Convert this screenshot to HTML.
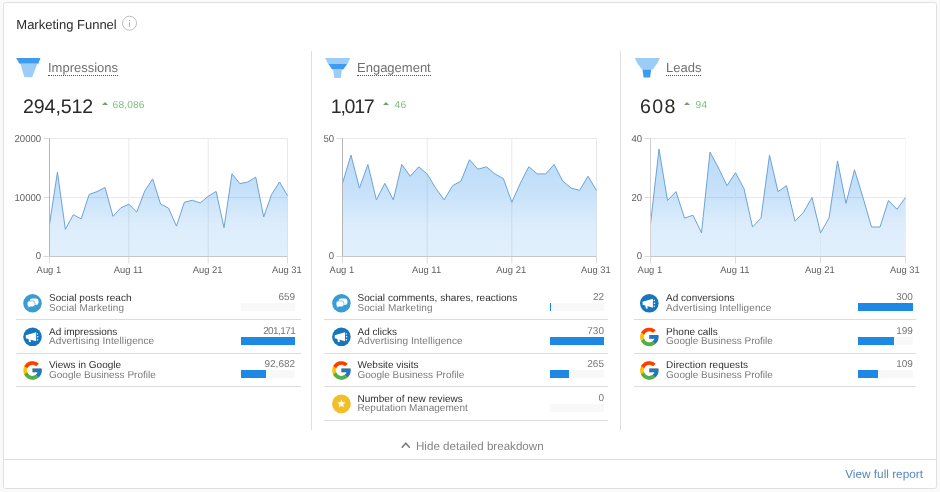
<!DOCTYPE html>
<html><head><meta charset="utf-8"><title>Marketing Funnel</title>
<style>
*{box-sizing:border-box;margin:0;padding:0}
html,body{width:940px;height:492px;overflow:hidden;background:#fafafa;font-family:"Liberation Sans",sans-serif;text-rendering:geometricPrecision}
#wrap{position:absolute;left:0;top:0;width:940px;height:492px;will-change:transform}
#card{position:absolute;left:3px;top:2px;width:934px;height:487px;background:#fff;border:1px solid #e0e0e0;border-radius:2.5px}
#title{position:absolute;left:16.3px;top:16.5px;font-size:13px;color:#2c2c2c;line-height:16px;white-space:nowrap}
.vd{position:absolute;top:51px;height:379px;width:1px;background:#dedede}
#foot{position:absolute;left:4px;top:459px;width:932px;height:1px;background:#e0e0e0}
.lab{position:absolute;top:60.5px;font-size:13px;line-height:14.5px;color:#707070;white-space:nowrap;border-bottom:1px dotted #555;padding-bottom:0px}
.num{position:absolute;top:94.6px;font-size:19.6px;line-height:24px;color:#2a2a2a;white-space:nowrap;letter-spacing:-0.1px}
.dl{position:absolute;top:100.3px;font-size:10.2px;line-height:12px;color:#7dbf7e;white-space:nowrap;letter-spacing:0.15px}
.tri{position:absolute;top:102px;width:0;height:0;border-left:3px solid transparent;border-right:3px solid transparent;border-bottom:3.6px solid #6aa46b}
svg{position:absolute;left:0;top:0}
.ax{text-rendering:geometricPrecision;font-size:10px;fill:#5f5f5f;font-family:"Liberation Sans",sans-serif}
.axx{font-size:9.5px}
.row{position:absolute;width:284.5px;height:34px;border-bottom:1px solid #dcdcdc}
.row .t{position:absolute;left:33px;top:7.3px;font-size:10px;line-height:11px;color:#303030;white-space:nowrap}
.row .s{position:absolute;left:33px;top:16.9px;font-size:10px;line-height:11px;color:#7a7a7a;white-space:nowrap}
.row .v{position:absolute;right:5.5px;top:6px;font-size:10px;line-height:11px;color:#757575;white-space:nowrap}
.row .trk{position:absolute;right:5.5px;top:17.4px;width:54px;height:8px;background:#f8f8f8}
.row .bar{height:8px;background:#1e88e5}
#hide{position:absolute;left:416px;top:439.8px;font-size:11.6px;line-height:14px;color:#858585;white-space:nowrap}
#view{position:absolute;right:17px;top:467px;font-size:11.8px;line-height:14px;color:#5688bf;white-space:nowrap}
</style></head><body>
<div id="wrap"><div id="card"></div>
<div id="title">Marketing Funnel</div>
<div class="vd" style="left:311px"></div><div class="vd" style="left:620px"></div>
<div id="foot"></div>
<div class="lab" style="left:48px">Impressions</div>
<div class="lab" style="left:357px">Engagement</div>
<div class="lab" style="left:666px">Leads</div>
<div class="num" style="left:23px">294,512</div>
<div class="num" style="left:330.8px;letter-spacing:-1.3px">1,017</div>
<div class="num" style="left:640px;letter-spacing:1.4px">608</div>
<div class="tri" style="left:101.9px"></div><div class="dl" style="left:112.6px">68,086</div>
<div class="tri" style="left:383.3px"></div><div class="dl" style="left:394.6px">46</div>
<div class="tri" style="left:683.7px"></div><div class="dl" style="left:695.6px">94</div>
<div class="row" style="left:16px;top:286.0px;width:284.6px"><div class="t" style="left:33.0px;letter-spacing:0.05px">Social posts reach</div><div class="s" style="left:33.0px;letter-spacing:0.07px">Social Marketing</div><div class="v" style="right:5.5px">659</div><div class="trk" style="right:5.5px;width:54.2px"><div class="bar" style="width:0.0px"></div></div></div><div class="row" style="left:16px;top:319.5px;width:284.6px"><div class="t" style="left:33.0px">Ad impressions</div><div class="s" style="left:33.0px;letter-spacing:0.1px">Advertising Intelligence</div><div class="v" style="right:5.5px;letter-spacing:-0.6px">201,171</div><div class="trk" style="right:5.5px;width:54.2px"><div class="bar" style="width:54.2px"></div></div></div><div class="row" style="left:16px;top:353.0px;width:284.6px"><div class="t" style="left:33.0px">Views in Google</div><div class="s" style="left:33.0px">Google Business Profile</div><div class="v" style="right:5.5px">92,682</div><div class="trk" style="right:5.5px;width:54.2px"><div class="bar" style="width:24.9px"></div></div></div><div class="row" style="left:324px;top:286.0px;width:283.8px"><div class="t" style="left:33.5px;letter-spacing:0.055px">Social comments, shares, reactions</div><div class="s" style="left:33.5px;letter-spacing:0.07px">Social Marketing</div><div class="v" style="right:3.8px">22</div><div class="trk" style="right:3.8px;width:54px"><div class="bar" style="width:1.1px"></div></div></div><div class="row" style="left:324px;top:319.5px;width:283.8px"><div class="t" style="left:33.5px">Ad clicks</div><div class="s" style="left:33.5px;letter-spacing:0.1px">Advertising Intelligence</div><div class="v" style="right:3.8px">730</div><div class="trk" style="right:3.8px;width:54px"><div class="bar" style="width:54.0px"></div></div></div><div class="row" style="left:324px;top:353.0px;width:283.8px"><div class="t" style="left:33.5px">Website visits</div><div class="s" style="left:33.5px">Google Business Profile</div><div class="v" style="right:3.8px">265</div><div class="trk" style="right:3.8px;width:54px"><div class="bar" style="width:19.2px"></div></div></div><div class="row" style="left:324px;top:386.5px;width:283.8px"><div class="t" style="left:33.5px;letter-spacing:0.04px">Number of new reviews</div><div class="s" style="left:33.5px;letter-spacing:0.04px">Reputation Management</div><div class="v" style="right:3.8px">0</div><div class="trk" style="right:3.8px;width:54px"><div class="bar" style="width:0.0px"></div></div></div><div class="row" style="left:633.6px;top:286.0px;width:282.1px"><div class="t" style="left:32.5px">Ad conversions</div><div class="s" style="left:32.5px;letter-spacing:0.1px">Advertising Intelligence</div><div class="v" style="right:2.8px">300</div><div class="trk" style="right:2.8px;width:54.8px"><div class="bar" style="width:54.8px"></div></div></div><div class="row" style="left:633.6px;top:319.5px;width:282.1px"><div class="t" style="left:32.5px">Phone calls</div><div class="s" style="left:32.5px">Google Business Profile</div><div class="v" style="right:2.8px">199</div><div class="trk" style="right:2.8px;width:54.8px"><div class="bar" style="width:35.9px"></div></div></div><div class="row" style="left:633.6px;top:353.0px;width:282.1px"><div class="t" style="left:32.5px;letter-spacing:0.08px">Direction requests</div><div class="s" style="left:32.5px">Google Business Profile</div><div class="v" style="right:2.8px">109</div><div class="trk" style="right:2.8px;width:54.8px"><div class="bar" style="width:19.7px"></div></div></div>
<svg width="940" height="492" viewBox="0 0 940 492">
<defs>
<linearGradient id="g1" x1="0" y1="138" x2="0" y2="257" gradientUnits="userSpaceOnUse"><stop offset="0" stop-color="#3b98ec" stop-opacity="0.36"/><stop offset="0.45" stop-color="#3b98ec" stop-opacity="0.29"/><stop offset="0.72" stop-color="#3b98ec" stop-opacity="0.18"/><stop offset="1" stop-color="#3b98ec" stop-opacity="0.145"/></linearGradient>
</defs>
<line x1="43.5" y1="256.5" x2="49.5" y2="256.5" stroke="#dadada" stroke-width="1"/>
<line x1="49.5" y1="197.5" x2="287.5" y2="197.5" stroke="#e9e9e9" stroke-width="1"/>
<line x1="43.5" y1="197.5" x2="49.5" y2="197.5" stroke="#dadada" stroke-width="1"/>
<line x1="49.5" y1="138.5" x2="287.5" y2="138.5" stroke="#e9e9e9" stroke-width="1"/>
<line x1="43.5" y1="138.5" x2="49.5" y2="138.5" stroke="#dadada" stroke-width="1"/>
<line x1="49.50" y1="256.5" x2="49.50" y2="263.5" stroke="#dcdcdc" stroke-width="1"/>
<line x1="128.83" y1="138.5" x2="128.83" y2="256.5" stroke="#e9e9e9" stroke-width="1"/>
<line x1="128.83" y1="256.5" x2="128.83" y2="263.5" stroke="#dcdcdc" stroke-width="1"/>
<line x1="208.17" y1="138.5" x2="208.17" y2="256.5" stroke="#e9e9e9" stroke-width="1"/>
<line x1="208.17" y1="256.5" x2="208.17" y2="263.5" stroke="#dcdcdc" stroke-width="1"/>
<line x1="287.50" y1="138.5" x2="287.50" y2="256.5" stroke="#e9e9e9" stroke-width="1"/>
<line x1="287.50" y1="256.5" x2="287.50" y2="263.5" stroke="#dcdcdc" stroke-width="1"/>
<path d="M49.50,224.46 L57.43,172.17 L65.37,229.37 L73.30,214.66 L81.23,218.91 L89.17,194.40 L97.10,191.60 L105.03,187.53 L112.97,216.30 L120.90,207.80 L128.83,204.20 L136.77,212.04 L144.70,191.13 L152.63,178.92 L160.57,203.99 L168.50,208.12 L176.43,226.12 L184.37,202.22 L192.30,200.27 L200.23,202.89 L208.17,196.36 L216.10,191.45 L224.03,227.74 L231.97,173.80 L239.90,183.61 L247.83,181.97 L255.77,177.07 L263.70,216.95 L271.63,194.40 L279.57,181.97 L287.50,195.70 L287.50,256.5 L49.50,256.5 Z" fill="url(#g1)"/>
<path d="M49.50,224.46 L57.43,172.17 L65.37,229.37 L73.30,214.66 L81.23,218.91 L89.17,194.40 L97.10,191.60 L105.03,187.53 L112.97,216.30 L120.90,207.80 L128.83,204.20 L136.77,212.04 L144.70,191.13 L152.63,178.92 L160.57,203.99 L168.50,208.12 L176.43,226.12 L184.37,202.22 L192.30,200.27 L200.23,202.89 L208.17,196.36 L216.10,191.45 L224.03,227.74 L231.97,173.80 L239.90,183.61 L247.83,181.97 L255.77,177.07 L263.70,216.95 L271.63,194.40 L279.57,181.97 L287.50,195.70" fill="none" stroke="#6ea2d6" stroke-width="1" stroke-linejoin="miter" stroke-miterlimit="12"/>
<line x1="49.5" y1="138.5" x2="49.5" y2="256.5" stroke="#b4b4b4" stroke-width="1"/>
<line x1="49.5" y1="256.5" x2="287.5" y2="256.5" stroke="#c6c6c6" stroke-width="1"/>
<text transform="translate(41.2,258.70000000000005) scale(0.96,1)" text-anchor="end" class="ax">0</text>
<text transform="translate(41.2,200.6) scale(0.96,1)" text-anchor="end" class="ax">10000</text>
<text transform="translate(41.2,141.6) scale(0.96,1)" text-anchor="end" class="ax">20000</text>
<text transform="translate(48.90,272.8) scale(0.99,1)" text-anchor="middle" class="ax axx">Aug 1</text>
<text transform="translate(128.23,272.8) scale(0.99,1)" text-anchor="middle" class="ax axx">Aug 11</text>
<text transform="translate(207.57,272.8) scale(0.99,1)" text-anchor="middle" class="ax axx">Aug 21</text>
<text transform="translate(286.90,272.8) scale(0.99,1)" text-anchor="middle" class="ax axx">Aug 31</text><line x1="336.5" y1="256.5" x2="342.5" y2="256.5" stroke="#dadada" stroke-width="1"/>
<line x1="342.5" y1="138.5" x2="596.5" y2="138.5" stroke="#e9e9e9" stroke-width="1"/>
<line x1="336.5" y1="138.5" x2="342.5" y2="138.5" stroke="#dadada" stroke-width="1"/>
<line x1="342.50" y1="256.5" x2="342.50" y2="263.5" stroke="#dcdcdc" stroke-width="1"/>
<line x1="427.17" y1="138.5" x2="427.17" y2="256.5" stroke="#e9e9e9" stroke-width="1"/>
<line x1="427.17" y1="256.5" x2="427.17" y2="263.5" stroke="#dcdcdc" stroke-width="1"/>
<line x1="511.83" y1="138.5" x2="511.83" y2="256.5" stroke="#e9e9e9" stroke-width="1"/>
<line x1="511.83" y1="256.5" x2="511.83" y2="263.5" stroke="#dcdcdc" stroke-width="1"/>
<line x1="596.50" y1="138.5" x2="596.50" y2="256.5" stroke="#e9e9e9" stroke-width="1"/>
<line x1="596.50" y1="256.5" x2="596.50" y2="263.5" stroke="#dcdcdc" stroke-width="1"/>
<path d="M342.50,183.34 L350.97,155.02 L359.43,188.06 L367.90,164.46 L376.37,199.86 L384.83,183.34 L393.30,199.86 L401.77,164.46 L410.23,176.26 L418.70,166.82 L427.17,173.90 L435.63,188.06 L444.10,199.86 L452.57,185.70 L461.03,180.98 L469.50,159.74 L477.97,169.18 L486.43,166.82 L494.90,173.90 L503.37,178.62 L511.83,202.22 L520.30,183.34 L528.77,166.82 L537.23,173.90 L545.70,173.90 L554.17,164.46 L562.63,180.98 L571.10,188.06 L579.57,190.42 L588.03,176.26 L596.50,190.42 L596.50,256.5 L342.50,256.5 Z" fill="url(#g1)"/>
<path d="M342.50,183.34 L350.97,155.02 L359.43,188.06 L367.90,164.46 L376.37,199.86 L384.83,183.34 L393.30,199.86 L401.77,164.46 L410.23,176.26 L418.70,166.82 L427.17,173.90 L435.63,188.06 L444.10,199.86 L452.57,185.70 L461.03,180.98 L469.50,159.74 L477.97,169.18 L486.43,166.82 L494.90,173.90 L503.37,178.62 L511.83,202.22 L520.30,183.34 L528.77,166.82 L537.23,173.90 L545.70,173.90 L554.17,164.46 L562.63,180.98 L571.10,188.06 L579.57,190.42 L588.03,176.26 L596.50,190.42" fill="none" stroke="#6ea2d6" stroke-width="1" stroke-linejoin="miter" stroke-miterlimit="12"/>
<line x1="342.5" y1="138.5" x2="342.5" y2="256.5" stroke="#b4b4b4" stroke-width="1"/>
<line x1="342.5" y1="256.5" x2="596.5" y2="256.5" stroke="#c6c6c6" stroke-width="1"/>
<text transform="translate(334.2,258.70000000000005) scale(0.96,1)" text-anchor="end" class="ax">0</text>
<text transform="translate(334.2,141.6) scale(0.96,1)" text-anchor="end" class="ax">50</text>
<text transform="translate(341.90,272.8) scale(0.99,1)" text-anchor="middle" class="ax axx">Aug 1</text>
<text transform="translate(426.57,272.8) scale(0.99,1)" text-anchor="middle" class="ax axx">Aug 11</text>
<text transform="translate(511.23,272.8) scale(0.99,1)" text-anchor="middle" class="ax axx">Aug 21</text>
<text transform="translate(595.90,272.8) scale(0.99,1)" text-anchor="middle" class="ax axx">Aug 31</text><line x1="644.5" y1="256.5" x2="650.5" y2="256.5" stroke="#dadada" stroke-width="1"/>
<line x1="650.5" y1="197.5" x2="905.5" y2="197.5" stroke="#e9e9e9" stroke-width="1"/>
<line x1="644.5" y1="197.5" x2="650.5" y2="197.5" stroke="#dadada" stroke-width="1"/>
<line x1="650.5" y1="138.5" x2="905.5" y2="138.5" stroke="#e9e9e9" stroke-width="1"/>
<line x1="644.5" y1="138.5" x2="650.5" y2="138.5" stroke="#dadada" stroke-width="1"/>
<line x1="650.50" y1="256.5" x2="650.50" y2="263.5" stroke="#dcdcdc" stroke-width="1"/>
<line x1="735.50" y1="138.5" x2="735.50" y2="256.5" stroke="#f7f7f7" stroke-width="1"/>
<line x1="735.50" y1="256.5" x2="735.50" y2="263.5" stroke="#dcdcdc" stroke-width="1"/>
<line x1="820.50" y1="138.5" x2="820.50" y2="256.5" stroke="#f7f7f7" stroke-width="1"/>
<line x1="820.50" y1="256.5" x2="820.50" y2="263.5" stroke="#dcdcdc" stroke-width="1"/>
<line x1="905.50" y1="138.5" x2="905.50" y2="256.5" stroke="#f7f7f7" stroke-width="1"/>
<line x1="905.50" y1="256.5" x2="905.50" y2="263.5" stroke="#dcdcdc" stroke-width="1"/>
<path d="M650.50,224.05 L659.00,149.12 L667.50,200.45 L676.00,191.60 L684.50,218.15 L693.00,215.20 L701.50,232.90 L710.00,152.07 L718.50,168.00 L727.00,185.70 L735.50,172.72 L744.00,188.65 L752.50,227.00 L761.00,218.15 L769.50,155.02 L778.00,191.60 L786.50,185.70 L795.00,221.10 L803.50,212.25 L812.00,197.50 L820.50,232.90 L829.00,218.15 L837.50,160.92 L846.00,203.40 L854.50,169.77 L863.00,197.50 L871.50,227.00 L880.00,227.00 L888.50,200.45 L897.00,209.30 L905.50,197.50 L905.50,256.5 L650.50,256.5 Z" fill="url(#g1)"/>
<path d="M650.50,224.05 L659.00,149.12 L667.50,200.45 L676.00,191.60 L684.50,218.15 L693.00,215.20 L701.50,232.90 L710.00,152.07 L718.50,168.00 L727.00,185.70 L735.50,172.72 L744.00,188.65 L752.50,227.00 L761.00,218.15 L769.50,155.02 L778.00,191.60 L786.50,185.70 L795.00,221.10 L803.50,212.25 L812.00,197.50 L820.50,232.90 L829.00,218.15 L837.50,160.92 L846.00,203.40 L854.50,169.77 L863.00,197.50 L871.50,227.00 L880.00,227.00 L888.50,200.45 L897.00,209.30 L905.50,197.50" fill="none" stroke="#6ea2d6" stroke-width="1" stroke-linejoin="miter" stroke-miterlimit="12"/>
<line x1="650.5" y1="138.5" x2="650.5" y2="256.5" stroke="#d2d2d2" stroke-width="1"/>
<line x1="650.5" y1="256.5" x2="905.5" y2="256.5" stroke="#c6c6c6" stroke-width="1"/>
<text transform="translate(642.2,258.70000000000005) scale(0.96,1)" text-anchor="end" class="ax">0</text>
<text transform="translate(642.2,200.6) scale(0.96,1)" text-anchor="end" class="ax">20</text>
<text transform="translate(642.2,141.6) scale(0.96,1)" text-anchor="end" class="ax">40</text>
<text transform="translate(649.90,272.8) scale(0.99,1)" text-anchor="middle" class="ax axx">Aug 1</text>
<text transform="translate(734.90,272.8) scale(0.99,1)" text-anchor="middle" class="ax axx">Aug 11</text>
<text transform="translate(819.90,272.8) scale(0.99,1)" text-anchor="middle" class="ax axx">Aug 21</text>
<text transform="translate(904.90,272.8) scale(0.99,1)" text-anchor="middle" class="ax axx">Aug 31</text>
<g transform="translate(16.1,58)">
<polygon points="0,0 24.4,0 22.2,5.7 3.4,5.7" fill="#3f9bf0"/>
<polygon points="4.3,5.7 21.3,5.7 16,19.2 8.3,19.2" fill="#9ccdf6"/>
</g><g transform="translate(325.15,58) scale(1.03,1)">
<polygon points="0,0 24.5,0 21.6,6 2.9,6" fill="#9ccdf6"/>
<polygon points="3.1,6 21.4,6 17.6,11.6 6.9,11.6" fill="#3f9bf0"/>
<polygon points="7.8,11.6 16.3,11.6 15.200000000000001,20 8.9,20" fill="#9ccdf6"/>
</g><g transform="translate(634.75,58) scale(1.03,1)">
<polygon points="0,0 24.5,0 21.6,6 2.9,6" fill="#9ccdf6"/>
<polygon points="3.1,6 21.4,6 17.6,11.6 6.9,11.6" fill="#9ccdf6"/>
<polygon points="7.5,11.6 16.0,11.6 14.9,19.6 8.6,19.6" fill="#3f9bf0"/>
</g>
<g transform="translate(32.5,303.3)"><circle r="9.25" fill="#3a9cd4"/>
<rect x="-2.8" y="-4.7" width="8.8" height="6.3" rx="2.6" fill="#fff"/>
<path d="M-5.3,-0.2 a2.1,2.1 0 0 1 2.1,-2.1 h3.6 a2.1,2.1 0 0 1 2.1,2.1 v1.6 a2.1,2.1 0 0 1 -2.1,2.1 h-2.6 l-2.9,1.3 l0.8,-1.7 a2.1,2.1 0 0 1 -1,-1.8 z" fill="#fff" stroke="#3a9cd4" stroke-width="0.6"/></g><g transform="translate(32.5,336.8)"><circle r="9.3" fill="#1677be"/>
<path d="M-6.7,-1.6 L3.6,-4.6 V4.4 L-6.7,1.4 Z M-4.1,1.9 L-2.1,2.5 L-1.5,5.2 L-3.4,5.2 Z" fill="#fff"/>
<circle cx="5.2" cy="-0.1" r="0.75" fill="#fff"/><circle cx="5" cy="-2.9" r="0.7" fill="#fff"/><circle cx="5" cy="2.9" r="0.7" fill="#fff"/></g><g transform="translate(21.4,359.3) scale(0.46249999999999997)">
<path fill="#FFC107" d="M43.611,20.083H42V20H24v8h11.303c-1.649,4.657-6.08,8-11.303,8c-6.627,0-12-5.373-12-12c0-6.627,5.373-12,12-12c3.059,0,5.842,1.154,7.961,3.039l5.657-5.657C34.046,6.053,29.268,4,24,4C12.955,4,4,12.955,4,24c0,11.045,8.955,20,20,20c11.045,0,20-8.955,20-20C44,22.659,43.862,21.35,43.611,20.083z"/>
<path fill="#FF3D00" d="M6.306,14.691l6.571,4.819C14.655,15.108,18.961,12,24,12c3.059,0,5.842,1.154,7.961,3.039l5.657-5.657C34.046,6.053,29.268,4,24,4C16.318,4,9.656,8.337,6.306,14.691z"/>
<path fill="#4CAF50" d="M24,44c5.166,0,9.86-1.977,13.409-5.192l-6.19-5.238C29.211,35.091,26.715,36,24,36c-5.202,0-9.619-3.317-11.283-7.946l-6.522,5.025C9.505,39.556,16.227,44,24,44z"/>
<path fill="#1976D2" d="M43.611,20.083H42V20H24v8h11.303c-0.792,2.237-2.231,4.166-4.087,5.571c0.001-0.001,0.002-0.001,0.003-0.002l6.19,5.238C36.971,39.205,44,34,44,24C44,22.659,43.862,21.35,43.611,20.083z"/>
</g><g transform="translate(341.4,303.3)"><circle r="9.25" fill="#3a9cd4"/>
<rect x="-2.8" y="-4.7" width="8.8" height="6.3" rx="2.6" fill="#fff"/>
<path d="M-5.3,-0.2 a2.1,2.1 0 0 1 2.1,-2.1 h3.6 a2.1,2.1 0 0 1 2.1,2.1 v1.6 a2.1,2.1 0 0 1 -2.1,2.1 h-2.6 l-2.9,1.3 l0.8,-1.7 a2.1,2.1 0 0 1 -1,-1.8 z" fill="#fff" stroke="#3a9cd4" stroke-width="0.6"/></g><g transform="translate(341.4,336.8)"><circle r="9.3" fill="#1677be"/>
<path d="M-6.7,-1.6 L3.6,-4.6 V4.4 L-6.7,1.4 Z M-4.1,1.9 L-2.1,2.5 L-1.5,5.2 L-3.4,5.2 Z" fill="#fff"/>
<circle cx="5.2" cy="-0.1" r="0.75" fill="#fff"/><circle cx="5" cy="-2.9" r="0.7" fill="#fff"/><circle cx="5" cy="2.9" r="0.7" fill="#fff"/></g><g transform="translate(330.29999999999995,359.3) scale(0.46249999999999997)">
<path fill="#FFC107" d="M43.611,20.083H42V20H24v8h11.303c-1.649,4.657-6.08,8-11.303,8c-6.627,0-12-5.373-12-12c0-6.627,5.373-12,12-12c3.059,0,5.842,1.154,7.961,3.039l5.657-5.657C34.046,6.053,29.268,4,24,4C12.955,4,4,12.955,4,24c0,11.045,8.955,20,20,20c11.045,0,20-8.955,20-20C44,22.659,43.862,21.35,43.611,20.083z"/>
<path fill="#FF3D00" d="M6.306,14.691l6.571,4.819C14.655,15.108,18.961,12,24,12c3.059,0,5.842,1.154,7.961,3.039l5.657-5.657C34.046,6.053,29.268,4,24,4C16.318,4,9.656,8.337,6.306,14.691z"/>
<path fill="#4CAF50" d="M24,44c5.166,0,9.86-1.977,13.409-5.192l-6.19-5.238C29.211,35.091,26.715,36,24,36c-5.202,0-9.619-3.317-11.283-7.946l-6.522,5.025C9.505,39.556,16.227,44,24,44z"/>
<path fill="#1976D2" d="M43.611,20.083H42V20H24v8h11.303c-0.792,2.237-2.231,4.166-4.087,5.571c0.001-0.001,0.002-0.001,0.003-0.002l6.19,5.238C36.971,39.205,44,34,44,24C44,22.659,43.862,21.35,43.611,20.083z"/>
</g><g transform="translate(341.4,403.8)"><circle r="9.4" fill="#f1bf2a"/><polygon points="0.00,-4.40 1.12,-1.54 4.18,-1.36 1.81,0.59 2.59,3.56 0.00,1.90 -2.59,3.56 -1.81,0.59 -4.18,-1.36 -1.12,-1.54" fill="#fff"/></g><g transform="translate(649.3,303.3)"><circle r="9.3" fill="#1677be"/>
<path d="M-6.7,-1.6 L3.6,-4.6 V4.4 L-6.7,1.4 Z M-4.1,1.9 L-2.1,2.5 L-1.5,5.2 L-3.4,5.2 Z" fill="#fff"/>
<circle cx="5.2" cy="-0.1" r="0.75" fill="#fff"/><circle cx="5" cy="-2.9" r="0.7" fill="#fff"/><circle cx="5" cy="2.9" r="0.7" fill="#fff"/></g><g transform="translate(638.1999999999999,325.8) scale(0.46249999999999997)">
<path fill="#FFC107" d="M43.611,20.083H42V20H24v8h11.303c-1.649,4.657-6.08,8-11.303,8c-6.627,0-12-5.373-12-12c0-6.627,5.373-12,12-12c3.059,0,5.842,1.154,7.961,3.039l5.657-5.657C34.046,6.053,29.268,4,24,4C12.955,4,4,12.955,4,24c0,11.045,8.955,20,20,20c11.045,0,20-8.955,20-20C44,22.659,43.862,21.35,43.611,20.083z"/>
<path fill="#FF3D00" d="M6.306,14.691l6.571,4.819C14.655,15.108,18.961,12,24,12c3.059,0,5.842,1.154,7.961,3.039l5.657-5.657C34.046,6.053,29.268,4,24,4C16.318,4,9.656,8.337,6.306,14.691z"/>
<path fill="#4CAF50" d="M24,44c5.166,0,9.86-1.977,13.409-5.192l-6.19-5.238C29.211,35.091,26.715,36,24,36c-5.202,0-9.619-3.317-11.283-7.946l-6.522,5.025C9.505,39.556,16.227,44,24,44z"/>
<path fill="#1976D2" d="M43.611,20.083H42V20H24v8h11.303c-0.792,2.237-2.231,4.166-4.087,5.571c0.001-0.001,0.002-0.001,0.003-0.002l6.19,5.238C36.971,39.205,44,34,44,24C44,22.659,43.862,21.35,43.611,20.083z"/>
</g><g transform="translate(638.1999999999999,359.3) scale(0.46249999999999997)">
<path fill="#FFC107" d="M43.611,20.083H42V20H24v8h11.303c-1.649,4.657-6.08,8-11.303,8c-6.627,0-12-5.373-12-12c0-6.627,5.373-12,12-12c3.059,0,5.842,1.154,7.961,3.039l5.657-5.657C34.046,6.053,29.268,4,24,4C12.955,4,4,12.955,4,24c0,11.045,8.955,20,20,20c11.045,0,20-8.955,20-20C44,22.659,43.862,21.35,43.611,20.083z"/>
<path fill="#FF3D00" d="M6.306,14.691l6.571,4.819C14.655,15.108,18.961,12,24,12c3.059,0,5.842,1.154,7.961,3.039l5.657-5.657C34.046,6.053,29.268,4,24,4C16.318,4,9.656,8.337,6.306,14.691z"/>
<path fill="#4CAF50" d="M24,44c5.166,0,9.86-1.977,13.409-5.192l-6.19-5.238C29.211,35.091,26.715,36,24,36c-5.202,0-9.619-3.317-11.283-7.946l-6.522,5.025C9.505,39.556,16.227,44,24,44z"/>
<path fill="#1976D2" d="M43.611,20.083H42V20H24v8h11.303c-0.792,2.237-2.231,4.166-4.087,5.571c0.001-0.001,0.002-0.001,0.003-0.002l6.19,5.238C36.971,39.205,44,34,44,24C44,22.659,43.862,21.35,43.611,20.083z"/>
</g>
<g fill="none" stroke="#bdbdbd" stroke-width="1"><circle cx="129.5" cy="23.2" r="7"/></g>
<rect x="129" y="22.3" width="1" height="4.6" fill="#b0b0b0"/><rect x="129" y="19.8" width="1" height="1.3" fill="#b0b0b0"/>
<path d="M401.8,447.8 L405.8,443.2 L409.8,447.8" fill="none" stroke="#7a7a7a" stroke-width="1.5"/>
</svg>
<div id="hide">Hide detailed breakdown</div>
<div id="view">View full report</div>
</div></body></html>
